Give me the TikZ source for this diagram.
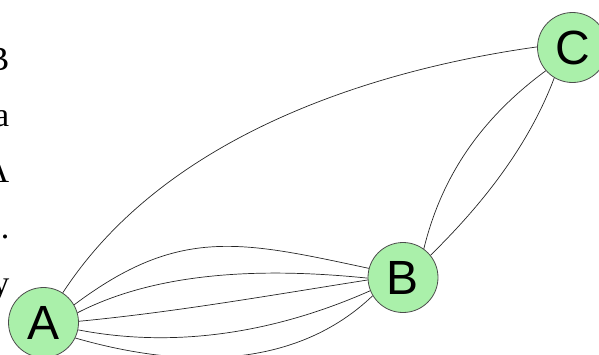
\documentclass[tikz,border=0pt]{standalone}
\usepackage{fontspec}
\setmainfont{Liberation Serif}
\newfontfamily\nodefont{Liberation Sans}
\definecolor{nodegreen}{RGB}{170,240,170}
\begin{document}
\begin{tikzpicture}[x=1pt,y=-1pt,
  vertex/.style={circle,draw=black!70,fill=nodegreen,line width=0.8pt,minimum size=70pt,inner sep=0pt,
    font=\nodefont\fontsize{48}{48}\selectfont},
  edge/.style={draw=black!85,line width=0.7pt},
  margintext/.style={anchor=base east,inner sep=0pt,font=\fontsize{34}{34}\selectfont}]
\useasboundingbox (0,0) rectangle (599,354);
\clip (0,0) rectangle (599,354);
% clipped text of the neighbouring column
\node[margintext] (t1) at (9.5,70) {B};
\node[margintext] (t2) at (9.5,126) {a};
\node[margintext] (t3) at (9.5,182) {A};
\node[margintext] (t4) at (9.5,238) {.};
\node[margintext] (t5) at (9.5,294) {y};
% vertices
\node[vertex] (A) at (43.5,322.5) {A};
\node[vertex] (B) at (403,277.5) {B};
\node[vertex] (C) at (572.5,47.5) {C};
% edges
\draw[edge] (A.57) .. controls (167,132.5) and (378.3,69.1) .. (C.179);
\draw[edge] (A.30) .. controls (179,226) and (241,241) .. (B.165);
\draw[edge] (A.16) .. controls (162.5,269) and (273.5,268.5) .. (B.181);
\draw[edge] (A.2) .. controls (176,312) and (272,295) .. (B.184);
\draw[edge] (A.348) .. controls (177,349) and (277,332) .. (B.202);
\draw[edge] (A.334) .. controls (186.5,370) and (297,368) .. (B.211);
\draw[edge] (B.54) .. controls (442.2,173.7) and (483.1,117.0) .. (C.221);
\draw[edge] (B.39) .. controls (482.9,203.9) and (528.7,145.5) .. (C.239);
\end{tikzpicture}
\end{document}
